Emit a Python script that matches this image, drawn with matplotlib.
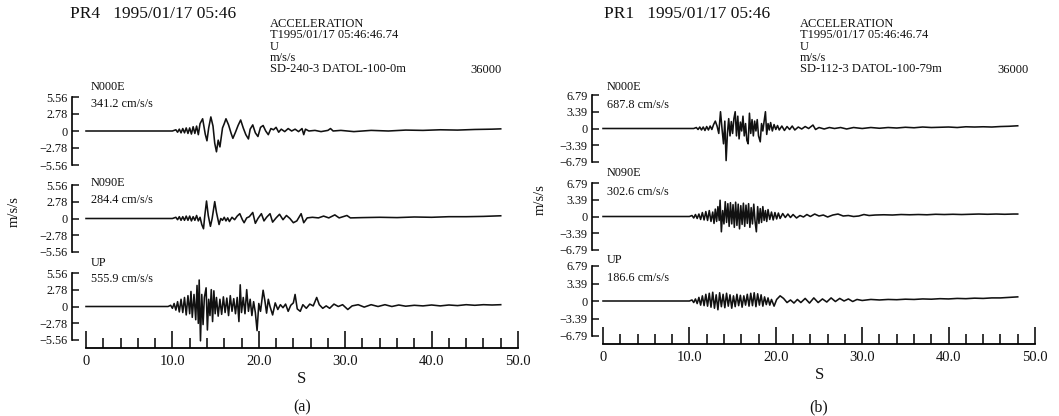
import matplotlib
matplotlib.use("Agg")
import matplotlib.pyplot as plt
import numpy as np

plt.rcParams['font.family'] = ['Liberation Serif', 'DejaVu Serif']

# ---------------- data ----------------
TIME_TICKS = [0, 10, 20, 30, 40, 50]
TIME_TICK_LABELS = ["0", "10.0", "20.0", "30.0", "40.0", "50.0"]

AMP_A = 5.56
AMP_B = 6.79
YLABELS_A = ["\u22125.56", "\u22122.78", "0", "2.78", "5.56"]
YLABELS_B = ["\u22126.79", "\u22123.39", "0", "3.39", "6.79"]

COMPONENTS = ["N000E", "N090E", "UP"]
PEAKS_A = ["341.2 cm/s/s", "284.4 cm/s/s", "555.9 cm/s/s"]
PEAKS_B = ["687.8 cm/s/s", "302.6 cm/s/s", "186.6 cm/s/s"]

HEAD_A = ["ACCELERATION", "T1995/01/17 05:46:46.74", "U", "m/s/s", "SD-240-3 DATOL-100-0m"]
HEAD_B = ["ACCELERATION", "T1995/01/17 05:46:46.74", "U", "m/s/s", "SD-112-3 DATOL-100-79m"]

# (time s, acceleration m/s/s)
A1 = [(0, 0), (10.0, 0), (10.4, 0.2), (10.6, -0.2), (10.8, 0.3), (11.0, -0.3), (11.2, 0.4), (11.4, -0.3),
      (11.6, 0.5), (11.8, -0.4), (12.0, 0.5), (12.2, -0.5), (12.4, 0.7), (12.6, -0.4), (12.8, 0.8),
      (13.0, -0.6), (13.2, 1.2), (13.5, 2.0), (13.8, -0.5), (14.0, -1.6), (14.2, 0.5), (14.45, 2.3),
      (14.7, 0.8), (14.9, -2.0), (15.1, -3.4), (15.3, -1.5), (15.5, -2.6), (15.8, 0.5), (16.0, 1.2),
      (16.2, 2.0), (16.5, 1.0), (16.8, -0.4), (17.0, -1.2), (17.3, -0.2), (17.6, 0.9), (17.9, 1.8),
      (18.2, 0.5), (18.5, -0.6), (18.8, -1.3), (19.0, 0.3), (19.3, 1.0), (19.6, -0.3), (19.9, -0.9),
      (20.2, 0.6), (20.5, 0.9), (20.8, 0.0), (21.1, -0.6), (21.4, 0.4), (21.7, 0.2), (22.0, 0.6),
      (22.3, -0.2), (22.6, 0.3), (23.0, -0.1), (23.4, 0.4), (23.8, 0.0), (24.2, 0.3), (24.6, -0.1),
      (25.0, 0.4), (25.2, -0.6), (25.4, 0.3), (25.8, 0.0), (26.5, 0.1), (27.2, -0.1), (28.0, 0.1),
      (28.3, 0.4), (28.6, 0.0), (29.5, 0.1), (31.0, -0.1), (33.0, 0.1), (35.0, 0.0), (37.0, 0.15),
      (39.0, 0.1), (41.0, 0.2), (43.0, 0.15), (45.0, 0.25), (47.0, 0.3), (48.0, 0.35)]

A2 = [(0, 0), (10.0, 0), (10.4, 0.2), (10.6, -0.2), (10.8, 0.3), (11.0, -0.3), (11.2, 0.3), (11.4, -0.3),
      (11.6, 0.4), (11.8, -0.3), (12.0, 0.4), (12.2, -0.4), (12.4, 0.3), (12.6, -0.3), (12.8, 0.5),
      (13.0, -0.4), (13.2, 0.2), (13.4, -1.0), (13.6, -1.7), (13.75, 0.5), (13.95, 2.9), (14.15, 0.5),
      (14.4, -1.3), (14.6, 0.0), (14.9, 2.8), (15.1, 1.0), (15.4, -1.0), (15.6, 0.0), (15.8, -0.3),
      (16.0, 0.2), (16.2, -0.4), (16.4, 0.1), (16.6, -0.5), (16.9, 0.2), (17.2, -0.2), (17.5, 0.4),
      (17.8, 0.8), (18.1, -0.2), (18.3, -0.7), (18.6, 0.1), (18.9, 0.3), (19.3, 1.0), (19.6, -0.8),
      (19.9, 0.0), (20.3, 0.8), (20.6, -0.4), (20.9, 0.2), (21.3, 0.8), (21.6, -0.6), (22.0, 0.1),
      (22.4, 0.7), (22.8, -0.2), (23.2, 0.5), (23.6, 0.0), (24.0, -0.7), (24.4, -0.4), (24.9, 0.8),
      (25.2, -0.7), (25.6, 0.1), (26.2, 0.2), (26.9, 0.1), (27.5, 0.4), (28.1, 0.1), (28.8, 0.6),
      (29.3, 0.1), (30.2, 0.5), (30.6, 0.1), (32.0, 0.15), (34.0, 0.2), (36.0, 0.15), (38.0, 0.25),
      (40.0, 0.2), (42.0, 0.3), (44.0, 0.3), (46.0, 0.35), (48.0, 0.45)]

A3 = [(0, 0), (9.5, 0), (9.8, 0.2), (10.0, -0.3), (10.2, 0.5), (10.4, -0.6), (10.6, 0.8), (10.8, -0.9),
      (11.0, 1.2), (11.2, -1.0), (11.4, 1.5), (11.6, -1.4), (11.8, 1.8), (12.0, -1.2), (12.15, 2.5),
      (12.3, -1.8), (12.5, 2.0), (12.7, -2.2), (12.85, 3.5), (13.0, -2.8), (13.1, 4.4), (13.25, -5.7),
      (13.4, 2.0), (13.55, -3.0), (13.7, 1.5), (13.9, 3.1), (14.05, -3.9), (14.2, 1.2), (14.35, -1.5),
      (14.5, 2.8), (14.65, -2.5), (14.8, 2.6), (14.95, -1.2), (15.1, 1.5), (15.3, -1.6), (15.5, 1.2),
      (15.7, -1.3), (15.9, 1.6), (16.1, -1.0), (16.3, 1.4), (16.5, -1.5), (16.7, 1.8), (16.9, -0.8),
      (17.1, 1.3), (17.3, -1.2), (17.5, 1.5), (17.7, -2.5), (17.85, 3.6), (18.0, -1.0), (18.2, 1.5),
      (18.4, -1.2), (18.6, 2.8), (18.8, -0.8), (19.0, 1.2), (19.2, -1.5), (19.4, 0.8), (19.6, -1.0),
      (19.8, -4.0), (20.0, 0.5), (20.2, -0.8), (20.5, 2.7), (20.7, 1.0), (20.9, -1.1), (21.1, 1.2),
      (21.3, 0.0), (21.6, -1.4), (21.9, 0.6), (22.2, -0.5), (22.5, 0.3), (22.8, -0.2), (23.1, 0.4),
      (23.4, -0.8), (23.7, 0.2), (24.0, 0.6), (24.2, 2.0), (24.45, -0.4), (24.8, -0.8), (25.1, 0.3),
      (25.5, -0.3), (25.9, 0.4), (26.3, 0.1), (26.7, 1.5), (27.0, 0.3), (27.4, -0.3), (27.8, 0.1),
      (28.2, -0.3), (28.7, 0.4), (29.2, 0.0), (29.7, 0.3), (30.3, -0.5), (30.8, 0.1), (31.5, 0.3),
      (32.2, -0.1), (33.0, 0.3), (33.8, 0.0), (34.6, 0.3), (35.4, 0.0), (36.2, 0.25), (37.0, 0.05),
      (38.0, 0.2), (39.0, 0.1), (40.0, 0.25), (41.0, 0.1), (42.0, 0.25), (43.0, 0.15), (44.0, 0.3),
      (45.0, 0.2), (46.0, 0.3), (47.0, 0.25), (48.0, 0.3)]

B1 = [(0, 0), (10.5, 0), (10.8, 0.2), (11.0, -0.2), (11.2, 0.3), (11.4, -0.3), (11.6, 0.3), (11.8, -0.4),
      (12.0, 0.4), (12.2, -0.3), (12.4, 0.5), (12.6, -0.2), (12.8, 0.8), (13.0, 1.5), (13.2, 0.5),
      (13.4, -1.0), (13.6, 3.4), (13.8, -0.5), (13.95, -3.1), (14.1, 1.5), (14.25, -6.5), (14.4, -1.0),
      (14.55, 2.0), (14.7, -1.5), (14.85, 1.4), (15.0, -1.0), (15.15, 2.0), (15.3, 3.4), (15.45, -1.5),
      (15.6, 2.5), (15.75, -2.1), (15.9, 1.3), (16.05, -0.5), (16.2, 2.5), (16.35, -1.5), (16.5, 1.0),
      (16.65, -2.4), (16.8, -3.1), (16.95, 3.1), (17.1, -1.0), (17.25, 1.8), (17.4, -1.5), (17.55, 1.5),
      (17.7, -0.5), (17.85, 1.8), (18.0, -1.5), (18.2, -2.7), (18.35, 1.0), (18.5, -0.5), (18.65, 1.5),
      (18.8, 3.4), (18.95, -1.2), (19.1, 1.0), (19.25, -0.3), (19.4, 1.2), (19.6, -0.5), (19.8, 0.8),
      (20.0, -0.2), (20.2, 0.6), (20.4, -0.3), (20.7, 0.5), (21.0, -0.4), (21.3, 0.4), (21.6, -0.2),
      (21.9, 0.5), (22.2, -0.3), (22.6, 0.3), (23.0, -0.1), (23.4, 0.4), (23.8, 0.0), (24.3, 0.7),
      (24.6, -0.2), (25.0, 0.2), (25.6, -0.1), (26.2, 0.2), (26.8, 0.0), (27.5, 0.2), (28.2, -0.1),
      (29.0, 0.2), (30.0, 0.0), (31.0, 0.2), (32.0, 0.05), (33.0, 0.2), (34.0, 0.1), (35.0, 0.25),
      (36.0, 0.15), (37.0, 0.3), (38.0, 0.2), (39.0, 0.25), (40.0, 0.3), (41.0, 0.2), (42.0, 0.35),
      (43.0, 0.3), (44.0, 0.35), (45.0, 0.3), (46.0, 0.4), (47.0, 0.45), (48.0, 0.55)]

B2 = [(0, 0), (10.0, 0), (10.3, 0.2), (10.5, -0.3), (10.7, 0.4), (10.9, -0.4), (11.1, 0.5), (11.3, -0.6),
      (11.5, 0.8), (11.7, -0.7), (11.9, 1.0), (12.1, -0.8), (12.3, 1.2), (12.5, -1.0), (12.7, 0.9),
      (12.85, -1.4), (13.0, 1.5), (13.15, -1.0), (13.3, 2.0), (13.45, -0.8), (13.55, 3.3), (13.7, -3.1),
      (13.85, 1.2), (14.0, -1.5), (14.15, 3.0), (14.3, -1.2), (14.45, 2.6), (14.6, -2.0), (14.75, 2.8),
      (14.9, -1.5), (15.05, 2.4), (15.2, -2.2), (15.35, 2.9), (15.5, -1.8), (15.65, 2.5), (15.8, -2.5),
      (15.95, 2.2), (16.1, -1.6), (16.25, 2.7), (16.4, -2.0), (16.55, 2.3), (16.7, -1.4), (16.85, 2.6),
      (17.0, -2.2), (17.15, 1.8), (17.3, -1.5), (17.45, 2.5), (17.6, -1.0), (17.75, -3.1), (17.9, 2.0),
      (18.05, -1.4), (18.2, 1.6), (18.35, -1.2), (18.5, 2.0), (18.65, -0.8), (18.8, 1.2), (18.95, -1.0),
      (19.1, 1.4), (19.3, -0.6), (19.5, 0.9), (19.7, -0.7), (19.9, 0.8), (20.1, -0.5), (20.3, 0.7),
      (20.5, -0.4), (20.8, 0.6), (21.1, -0.2), (21.4, 0.5), (21.7, -0.2), (22.0, 0.4), (22.4, -0.3),
      (22.8, 0.2), (23.2, -0.1), (23.6, 0.4), (24.0, 0.0), (24.5, 0.5), (25.0, 0.1), (25.5, 0.3),
      (26.0, -0.1), (26.6, 0.3), (27.2, 0.5), (27.8, 0.1), (28.4, 0.2), (29.0, 0.0), (29.6, 0.1),
      (30.2, 0.4), (30.8, 0.2), (31.5, 0.3), (32.5, 0.35), (33.5, 0.3), (34.5, 0.4), (35.5, 0.35),
      (36.5, 0.4), (37.5, 0.35), (38.5, 0.45), (39.5, 0.4), (40.5, 0.45), (41.5, 0.4), (42.5, 0.45),
      (43.5, 0.5), (44.5, 0.45), (45.5, 0.5), (46.5, 0.45), (47.5, 0.5), (48.0, 0.5)]

B3 = [(0, 0), (10.0, 0), (10.3, 0.2), (10.5, -0.3), (10.7, 0.4), (10.9, -0.5), (11.1, 0.7), (11.3, -0.8),
      (11.5, 1.0), (11.7, -0.9), (11.9, 1.3), (12.1, -1.0), (12.3, 1.5), (12.5, -1.2), (12.7, 1.7),
      (12.9, -1.4), (13.1, 1.2), (13.3, -1.7), (13.5, 1.6), (13.7, -1.1), (13.9, 1.3), (14.1, -1.3),
      (14.3, 1.5), (14.5, -1.0), (14.7, 1.2), (14.9, -1.4), (15.1, 1.0), (15.3, -1.1), (15.5, 1.3),
      (15.7, -0.9), (15.9, 1.1), (16.1, -1.2), (16.3, 1.0), (16.5, -0.8), (16.7, 1.3), (16.9, -1.0),
      (17.1, 1.5), (17.3, -0.9), (17.5, 1.6), (17.7, -1.1), (17.9, 1.4), (18.1, -0.8), (18.3, 1.2),
      (18.5, -1.0), (18.7, 0.8), (18.9, -0.7), (19.1, 0.6), (19.3, -0.8), (19.5, 0.3), (19.8, -1.0),
      (20.1, 0.3), (20.5, 1.0), (20.9, 0.5), (21.3, -0.3), (21.7, 0.2), (22.1, -0.4), (22.5, 0.3),
      (22.9, -0.3), (23.4, 0.5), (23.9, -0.4), (24.4, 0.6), (24.9, -0.3), (25.4, 0.4), (25.9, -0.2),
      (26.4, 0.6), (26.9, -0.1), (27.4, 0.5), (27.9, 0.0), (28.4, 0.4), (28.9, -0.1), (29.4, 0.3),
      (30.0, 0.1), (31.0, 0.3), (32.0, 0.2), (33.0, 0.3), (34.0, 0.25), (35.0, 0.35), (36.0, 0.3),
      (37.0, 0.4), (38.0, 0.35), (39.0, 0.45), (40.0, 0.4), (41.0, 0.5), (42.0, 0.45), (43.0, 0.55),
      (44.0, 0.5), (45.0, 0.6), (46.0, 0.6), (47.0, 0.7), (48.0, 0.8)]

# ---------------- layout ----------------
W, H = 1059, 416
fig = plt.figure(figsize=(W / 100, H / 100), dpi=100)
fig.patch.set_facecolor("white")


def fx(px):
    return px / W


def fy(py):
    return 1 - py / H


def add_ax(x0, x1, ytop, ybot):
    return fig.add_axes([x0 / W, 1 - ybot / H, (x1 - x0) / W, (ybot - ytop) / H])


def ftext(px, py, s, size, **kw):
    fig.text(fx(px), fy(py), s, fontsize=size, va="center", ha=kw.pop("ha", "left"),
             color="#111111", **kw)


def panel(spine_x, zero_x, px_per_s, rows, axis_y, amp, ylabels, traces, comps, peaks,
          head, head_x, num_x, title, tag, ylab_pos):
    xl = (spine_x - zero_x) / px_per_s
    xr = 50.6
    x_right_px = zero_x + 50.6 * px_per_s
    for (ytop, ybot), tr in zip(rows, traces):
        ax = add_ax(spine_x, x_right_px, ytop, ybot)
        t = [p[0] for p in tr]
        v = [p[1] for p in tr]
        ax.plot(t, v, color="#111111", lw=1.15, clip_on=False)
        ax.set_xlim(xl, xr)
        ax.set_ylim(-amp, amp)
        for s in ["top", "right", "bottom"]:
            ax.spines[s].set_visible(False)
        ax.spines["left"].set_linewidth(1.2)
        ax.set_xticks([])
        ax.set_yticks([-amp, -amp / 2, 0, amp / 2, amp])
        ax.set_yticklabels(ylabels)
        ax.tick_params(axis="y", direction="in", length=5, width=1.1, pad=3,
                       labelsize=8.8, colors="#111111")
        ax.patch.set_alpha(0)
    # time axis
    tax = add_ax(spine_x, x_right_px, axis_y - 20, axis_y)
    tax.set_xlim(xl, xr)
    tax.set_ylim(0, 1)
    for s in ["top", "right", "left"]:
        tax.spines[s].set_visible(False)
    tax.spines["bottom"].set_bounds(0, 50)
    tax.spines["bottom"].set_linewidth(1.3)
    tax.set_yticks([])
    tax.set_xticks(TIME_TICKS)
    tax.set_xticklabels(TIME_TICK_LABELS)
    tax.set_xticks(list(range(0, 51, 2)), minor=True)
    tax.tick_params(axis="x", which="major", direction="in", length=12, width=1.2,
                    pad=5, labelsize=10.5, colors="#111111")
    tax.tick_params(axis="x", which="minor", direction="in", length=7, width=1.1)
    tax.patch.set_alpha(0)
    # texts
    for c, pk, (cy, py) in zip(comps, peaks, tag["labels"]):
        ftext(tag["lx"], cy, c, 8.8)
        ftext(tag["lx"], py, pk, 8.8)
    ftext(title[0], 14, title[1], 12.5)
    for i, line in enumerate(head):
        ftext(head_x, 24 + i * 11.3, line, 9)
    ftext(num_x, 70, "36000", 9)
    fig.text(fx(ylab_pos[0]), fy(ylab_pos[1]), "m/s/s", rotation=90, fontsize=10.5,
             ha="center", va="center", color="#111111")
    ftext(zero_x + 25 * px_per_s, axis_y + 31, "S", 12, ha="center")
    ftext(zero_x + 25 * px_per_s, 407, tag["name"], 11.5, ha="center")


panel(spine_x=72, zero_x=86, px_per_s=8.64,
      rows=[(97, 165), (185, 252), (273, 340)], axis_y=348,
      amp=AMP_A, ylabels=YLABELS_A, traces=[A1, A2, A3], comps=COMPONENTS, peaks=PEAKS_A,
      head=HEAD_A, head_x=270, num_x=470, title=(70, "PR4   1995/01/17 05:46"),
      tag={"lx": 91, "labels": [(87, 104), (183, 200), (263, 279)], "name": "(a)"},
      ylab_pos=(14, 212))

panel(spine_x=592, zero_x=603, px_per_s=8.64,
      rows=[(95, 162), (183, 250), (266, 336)], axis_y=344,
      amp=AMP_B, ylabels=YLABELS_B, traces=[B1, B2, B3], comps=COMPONENTS, peaks=PEAKS_B,
      head=HEAD_B, head_x=800, num_x=997, title=(604, "PR1   1995/01/17 05:46"),
      tag={"lx": 607, "labels": [(87, 105), (173, 192), (260, 278)], "name": "(b)"},
      ylab_pos=(540, 200))

fig.savefig("out.png", dpi=100, facecolor="white")
